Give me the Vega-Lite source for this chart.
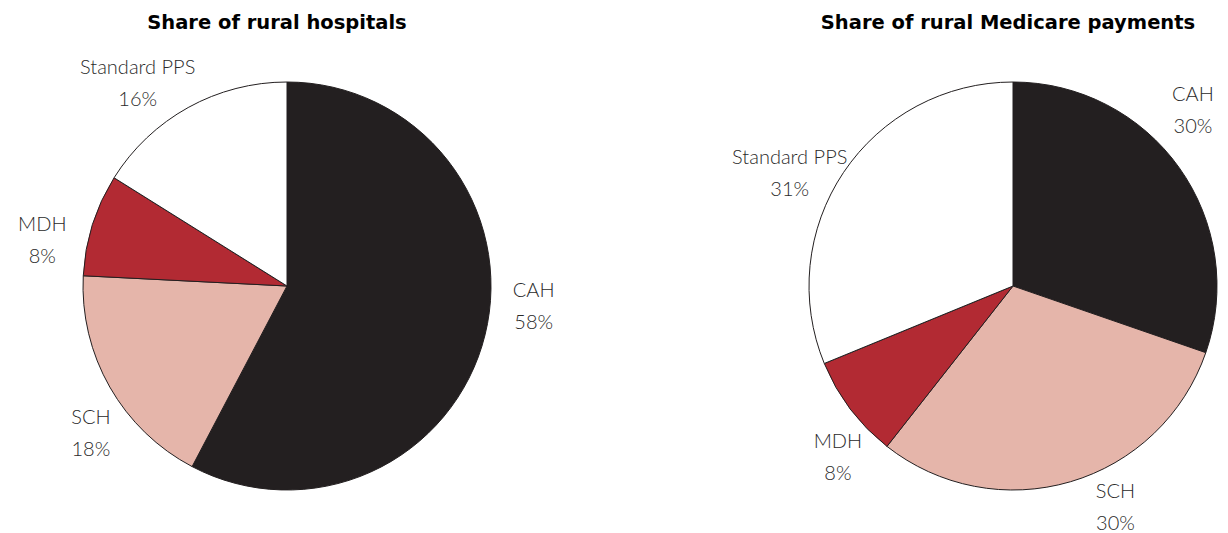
{
  "$schema": "https://vega.github.io/schema/vega-lite/v6.json",
  "padding": {"top": 12, "left": 0, "right": 0, "bottom": 0},
  "background": "white",
  "bounds": "flush",
  "spacing": 224,
  "config": {
    "view": {"stroke": null},
    "title": {"font": "DejaVu Sans", "fontWeight": "bold", "fontSize": 19.5, "color": "#000000", "anchor": "middle", "offset": 8}
  },
  "datasets": {
    "hosp": [
      {"type": "CAH", "o": 1, "share": 57.7, "label": "CAH\n58%"},
      {"type": "SCH", "o": 2, "share": 18.1, "label": "SCH\n18%"},
      {"type": "MDH", "o": 3, "share": 8.1, "label": "MDH\n8%"},
      {"type": "Standard PPS", "o": 4, "share": 16.1, "label": "Standard PPS\n16%"}
    ],
    "pay": [
      {"type": "CAH", "o": 1, "share": 30.3, "label": "CAH\n30%"},
      {"type": "SCH", "o": 2, "share": 30.3, "label": "SCH\n30%"},
      {"type": "MDH", "o": 3, "share": 8.2, "label": "MDH\n8%"},
      {"type": "Standard PPS", "o": 4, "share": 31.2, "label": "Standard PPS\n31%"}
    ]
  },
  "hconcat": [
    {
      "width": 574,
      "height": 490,
      "title": {"text": "Share of rural hospitals", "dx": -10},
      "data": {"name": "hosp"},
      "encoding": {
        "theta": {"field": "share", "type": "quantitative", "stack": true},
        "order": {"field": "o", "type": "quantitative"},
        "color": {
          "field": "type", "type": "nominal", "legend": null,
          "scale": {"domain": ["CAH", "SCH", "MDH", "Standard PPS"], "range": ["#231F20", "#E5B5AA", "#B22A33", "#FFFFFF"]}
        }
      },
      "layer": [
        {"mark": {"type": "arc", "outerRadius": 204, "stroke": "#231F20", "strokeWidth": 1}},
        {"mark": {"type": "text", "radius": 248, "thetaOffset": -0.14, "dy": -20, "font": "Lato", "fontWeight": 300, "fontSize": 20, "lineBreak": "\n", "lineHeight": 32, "baseline": "middle"},
         "encoding": {"text": {"field": "label"}, "color": {"value": "#2a2a2a"}}}
      ]
    },
    {
      "width": 430,
      "height": 490,
      "title": {"text": "Share of rural Medicare payments", "dx": -5},
      "data": {"name": "pay"},
      "encoding": {
        "theta": {"field": "share", "type": "quantitative", "stack": true},
        "order": {"field": "o", "type": "quantitative"},
        "color": {
          "field": "type", "type": "nominal", "legend": null,
          "scale": {"domain": ["CAH", "SCH", "MDH", "Standard PPS"], "range": ["#231F20", "#E5B5AA", "#B22A33", "#FFFFFF"]}
        }
      },
      "layer": [
        {"mark": {"type": "arc", "outerRadius": 204, "stroke": "#231F20", "strokeWidth": 1}},
        {"mark": {"type": "text", "radius": 248, "thetaOffset": -0.14, "dy": -20, "font": "Lato", "fontWeight": 300, "fontSize": 20, "lineBreak": "\n", "lineHeight": 32, "baseline": "middle"},
         "encoding": {"text": {"field": "label"}, "color": {"value": "#2a2a2a"}}}
      ]
    }
  ]
}
